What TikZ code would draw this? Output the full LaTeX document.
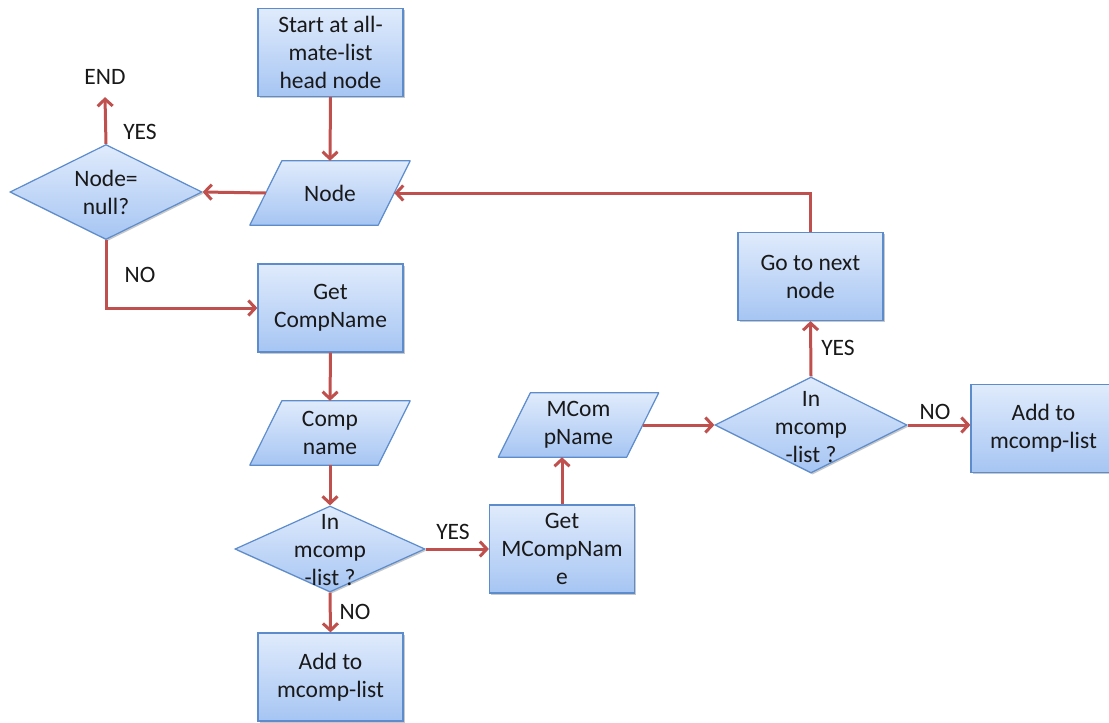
\documentclass[tikz,border=0pt]{standalone}
\usepackage{fontspec}
\setmainfont{Carlito}
\usetikzlibrary{arrows.meta,calc,shapes.geometric,shadows,backgrounds}

\definecolor{shapetop}{RGB}{224,235,252}
\definecolor{shapebot}{RGB}{166,197,243}
\definecolor{shapeline}{RGB}{92,140,204}
\definecolor{flowred}{RGB}{192,80,77}
\definecolor{inktext}{RGB}{25,25,25}

\tikzset{
  txt/.style={font=\fontsize{23.5}{28}\selectfont, text=inktext, align=center},
  softshadow/.style={drop shadow={shadow xshift=1.6pt, shadow yshift=-1.6pt, opacity=0.3, fill=black!70}},
  filled/.style={draw=shapeline, line width=1.2pt, top color=shapetop, bottom color=shapebot, softshadow},
  procbox/.style={filled, txt, rectangle, minimum width=145pt, minimum height=88pt, inner sep=0pt},
  decision/.style={filled, diamond, inner sep=0pt},
  dtext/.style={txt, inner sep=0pt},
  iotext/.style={txt, rectangle, minimum width=160pt, minimum height=64pt, inner sep=0pt},
  lbl/.style={txt},
  flow/.style={draw=flowred, line width=3pt,
    -{Straight Barb[length=7pt, width=15pt, line width=3pt]}}
}

% slanted input/output box drawn behind a named text node
\newcommand\ioshape[1]{%
  \begin{scope}[on background layer]
    \fill[black!70, opacity=0.3, xshift=1.6pt, yshift=-1.6pt]
      (#1.south west) -- ($(#1.south east)+(-32,0)$) -- (#1.north east)
      -- ($(#1.north west)+(32,0)$) -- cycle;
    \shade[top color=shapetop, bottom color=shapebot]
      (#1.south west) -- ($(#1.south east)+(-32,0)$) -- (#1.north east)
      -- ($(#1.north west)+(32,0)$) -- cycle;
    \draw[shapeline, line width=1.2pt, line join=round]
      (#1.south west) -- ($(#1.south east)+(-32,0)$) -- (#1.north east)
      -- ($(#1.north west)+(32,0)$) -- cycle;
  \end{scope}}

\begin{document}
\begin{tikzpicture}[x=1pt, y=-1pt]
  \useasboundingbox (0,0) rectangle (1109,723);
  \begin{scope}[on background layer]
    \fill[white] (0,0) rectangle (1109,723);
  \end{scope}
  \clip (0,0) rectangle (1109,723);

  % processes
  \node[procbox] (start) at (330.5,52.5) {Start at all-\\mate-list\\head node};
  \node[procbox] (getc)  at (330.5,308)  {Get\\CompName};
  \node[procbox] (add1)  at (330.5,677)  {Add to\\mcomp-list};
  \node[procbox] (getm)  at (562,549)    {Get\\MCompNam\\e};
  \node[procbox] (next)  at (810.5,276.5) {Go to next\\node};
  \node[procbox] (add2)  at (1043.5,428.5) {Add to\\mcomp-list};

  % input/output boxes
  \node[iotext] (nd)  at (330,193)   {Node};
  \ioshape{nd}
  \node[iotext] (cn)  at (330,433)   {Comp\\name};
  \ioshape{cn}
  \node[iotext] (mcn) at (578.5,425) {MCom\\pName};
  \ioshape{mcn}

  % decisions
  \node[decision, minimum width=192pt, minimum height=95pt] (dnull) at (106,192) {};
  \node[dtext] (dnullt) at (dnull.center) {Node=\\null?};
  \node[decision, minimum width=190pt, minimum height=86pt] (d1) at (330,549) {};
  \node[dtext] (d1t) at (330,550) {In\\mcomp\\-list ?};
  \node[decision, minimum width=192pt, minimum height=96pt] (d2) at (811,425) {};
  \node[dtext] (d2t) at (811,427) {In\\mcomp\\-list ?};

  % end marker
  \node[lbl] (endt) at (105,77) {END};

  % connectors
  \draw[flow] (start.south) -- (nd.north);
  \draw[flow] ($(nd.west)+(16,0)$) -- (dnull.east);
  \draw[flow] (dnull.north) -- ([yshift=-9pt]endt.south);
  \draw[flow] (dnull.south) |- (getc.west);
  \draw[flow] (getc.south) -- (cn.north);
  \draw[flow] (cn.south) -- (d1.north);
  \draw[flow] (d1.south) -- (add1.north);
  \draw[flow] (d1.east) -- (getm.west);
  \draw[flow] (getm.north) -- (getm.north |- mcn.south);
  \draw[flow] ($(mcn.east)+(-16,0)$) -- (d2.west);
  \draw[flow] (d2.east) -- (d2.east -| add2.west);
  \draw[flow] (d2.north) -- (next.south);
  \draw[flow] (next.north) |- ($(nd.east)+(-16,0)$);

  % branch labels
  \node[lbl] (yes1) at (140,132) {YES};
  \node[lbl] (no1)  at (140,275) {NO};
  \node[lbl] (yes2) at (453,532) {YES};
  \node[lbl] (no2)  at (355,612) {NO};
  \node[lbl] (yes3) at (838,348) {YES};
  \node[lbl] (no3)  at (935,412) {NO};
\end{tikzpicture}
\end{document}
